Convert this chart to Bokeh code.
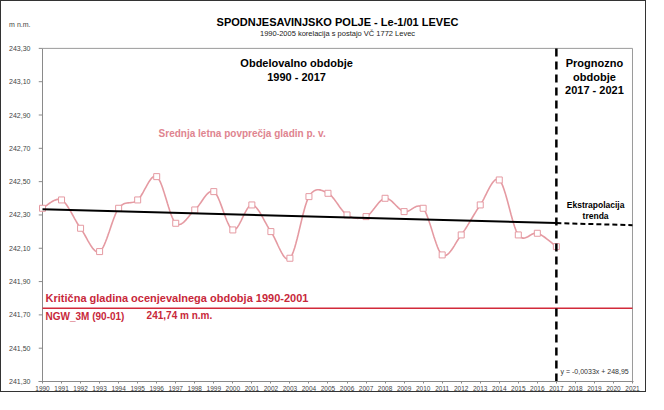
import numpy as np
from bokeh.plotting import figure
from bokeh.models import Label, FixedTicker, Range1d
from bokeh.embed import file_html
from bokeh.resources import INLINE

# ---------------- data ----------------
years = list(range(1990, 2018))
levels = [242.34, 242.39, 242.22, 242.08, 242.34, 242.39, 242.53, 242.25, 242.33, 242.44,
          242.21, 242.36, 242.20, 242.04, 242.41, 242.43, 242.30, 242.29, 242.40, 242.32,
          242.34, 242.06, 242.18, 242.36, 242.51, 242.18, 242.19, 242.11]
critical_level = 241.74
forecast_start = 2017
forecast_end = 2021
x_ticks = list(range(1990, 2022))
y_ticks = [241.30, 241.50, 241.70, 241.90, 242.10, 242.30, 242.50, 242.70, 242.90, 243.10, 243.30]
y_tick_labels = ["241,30", "241,50", "241,70", "241,90", "242,10", "242,30", "242,50",
                 "242,70", "242,90", "243,10", "243,30"]
unit_label = "m n.m."

FONT = "Liberation Sans"
PINK = "#E59AA2"
PINK_TXT = "#E0848F"
RED = "#D22A3A"
GRAY = "#8a8a8a"

# ---- layout constants (pixels -> data) ----
PX_Y = 167.0          # pixels per metre
PX_X = 19.03          # pixels per year
FRAME_H = 381.0       # frame height in pixels (frame spans the full canvas top)
X0, X1 = x_ticks[0], x_ticks[-1]
Y0, Y1 = y_ticks[0], y_ticks[-1]
TICK_DX = 4.0 / PX_X
y_top = Y0 + FRAME_H / PX_Y
unit_y = Y0 + (FRAME_H - 23) / PX_Y


def smooth(xs, ys, n=16):
    xs = np.asarray(xs, float)
    ys = np.asarray(ys, float)
    px = np.concatenate([[xs[0]], xs, [xs[-1]]])
    py = np.concatenate([[ys[0]], ys, [ys[-1]]])
    t = np.linspace(0, 1, n, endpoint=False)
    ox, oy = [], []
    for i in range(1, len(px) - 2):
        for P, out in ((px, ox), (py, oy)):
            p0, p1, p2, p3 = P[i - 1], P[i], P[i + 1], P[i + 2]
            c1 = p1 + (p2 - p0) / 6.0
            c2 = p2 - (p3 - p1) / 6.0
            b = ((1 - t) ** 3) * p1 + 3 * ((1 - t) ** 2) * t * c1 + 3 * (1 - t) * t * t * c2 + t ** 3 * p2
            out.extend(b.tolist())
    ox.append(xs[-1])
    oy.append(ys[-1])
    return ox, oy


p = figure(width=646, height=392, output_backend="svg", toolbar_location=None,
           x_range=Range1d(X0 - TICK_DX, X1 + 1.0 / PX_X),
           y_range=Range1d(Y0, y_top),
           min_border_left=37, min_border_right=14, min_border_top=0, min_border_bottom=11)
p.styles = {"border": "1px solid #333333"}
p.background_fill_color = "white"
p.border_fill_color = "white"
p.outline_line_color = None
p.xgrid.visible = False
p.ygrid.visible = False

# x axis
xa = p.xaxis[0]
xa.ticker = FixedTicker(ticks=x_ticks)
xa.axis_line_color = GRAY
xa.major_tick_line_color = GRAY
xa.minor_tick_line_color = None
xa.major_tick_in = 0
xa.major_tick_out = 2
xa.major_label_standoff = 2
xa.major_label_text_font = FONT
xa.major_label_text_font_size = "6.5px"
xa.major_label_text_color = "#444444"

# y axis: labels only (tick marks and axis line drawn inside the frame strip)
ya = p.yaxis[0]
ya.ticker = FixedTicker(ticks=y_ticks + [unit_y])
overrides = {t: l for t, l in zip(y_ticks, y_tick_labels)}
overrides[unit_y] = unit_label
ya.major_label_overrides = overrides
ya.axis_line_color = None
ya.major_tick_line_color = None
ya.minor_tick_line_color = None
ya.major_label_standoff = 2
ya.major_label_text_font = FONT
ya.major_label_text_font_size = "7px"
ya.major_label_text_color = "#444444"

# plot box: left axis line, tick marks, top and right border
p.line([X0, X0], [Y0, Y1], line_color=GRAY, line_width=1)
p.segment(x0=[X0 - TICK_DX] * len(y_ticks), y0=y_ticks, x1=[X0] * len(y_ticks), y1=y_ticks,
          line_color=GRAY, line_width=1)
p.line([X0, X1, X1], [Y1, Y1, Y0], line_color="#9a9a9a", line_width=1)

# critical level
p.line([X0, X1], [critical_level, critical_level], line_color=RED, line_width=1.5)

# smoothed series
sx, sy = smooth(years, levels)
p.line(sx, sy, line_color=PINK, line_width=1.6)
p.scatter(years, levels, marker="square", size=6, line_color=PINK, fill_color="white", line_width=1)

# trend line (least squares) and extrapolation
k, b = np.polyfit(years, levels, 1)
p.line([years[0], forecast_start], [k * years[0] + b, k * forecast_start + b],
       line_color="black", line_width=2)
p.line([forecast_start, forecast_end], [k * forecast_start + b, k * forecast_end + b],
       line_color="black", line_width=2, line_dash="5 3")

# forecast separator
p.line([forecast_start, forecast_start], [Y0, Y1], line_color="black",
       line_width=2.5, line_dash="8 5")


def lab(x, y, text, size, color="black", bold=False, align="left"):
    p.add_layout(Label(x=x, y=y, text=text, text_font=FONT,
                       text_font_size=size, text_color=color,
                       text_font_style="bold" if bold else "normal",
                       text_align=align, text_baseline="middle"))


def fy(pix):  # canvas pixel row -> data value
    return Y0 + (FRAME_H - pix) / PX_Y


xc = X0 + (336 - 41) / PX_X
lab(xc, fy(21), "SPODNJESAVINJSKO POLJE - Le-1/01 LEVEC", "11px", bold=True, align="center")
lab(xc, fy(32), "1990-2005 korelacija s postajo VČ 1772 Levec", "7.5px", color="#222222", align="center")

lab(2003.35, 243.214, "Obdelovalno obdobje", "11px", bold=True, align="center")
lab(2003.35, 243.13, "1990 - 2017", "11px", bold=True, align="center")
lab(2019.0, 243.214, "Prognozno", "11px", bold=True, align="center")
lab(2019.0, 243.13, "obdobje", "11px", bold=True, align="center")
lab(2019.0, 243.052, "2017 - 2021", "11px", bold=True, align="center")

lab(1996.1, 242.789, "Srednja letna povprečja gladin p. v.", "10px", color=PINK_TXT, bold=True)
lab(2019.06, 242.36, "Ekstrapolacija", "8.5px", bold=True, align="center")
lab(2019.06, 242.292, "trenda", "8.5px", bold=True, align="center")

lab(1990.16, 241.803, "Kritična gladina ocenjevalnega obdobja 1990-2001", "11px", color="#C8283A", bold=True)
lab(1990.16, 241.693, "NGW_3M (90-01)", "10px", color="#C8283A", bold=True)
lab(1995.47, 241.699, "241,74 m n.m.", "10px", color="#C8283A", bold=True)
lab(2017.22, 241.358, "y = -0,0033x + 248,95", "7px", color="#333333")

open("out.html", "w").write(file_html(p, INLINE))
